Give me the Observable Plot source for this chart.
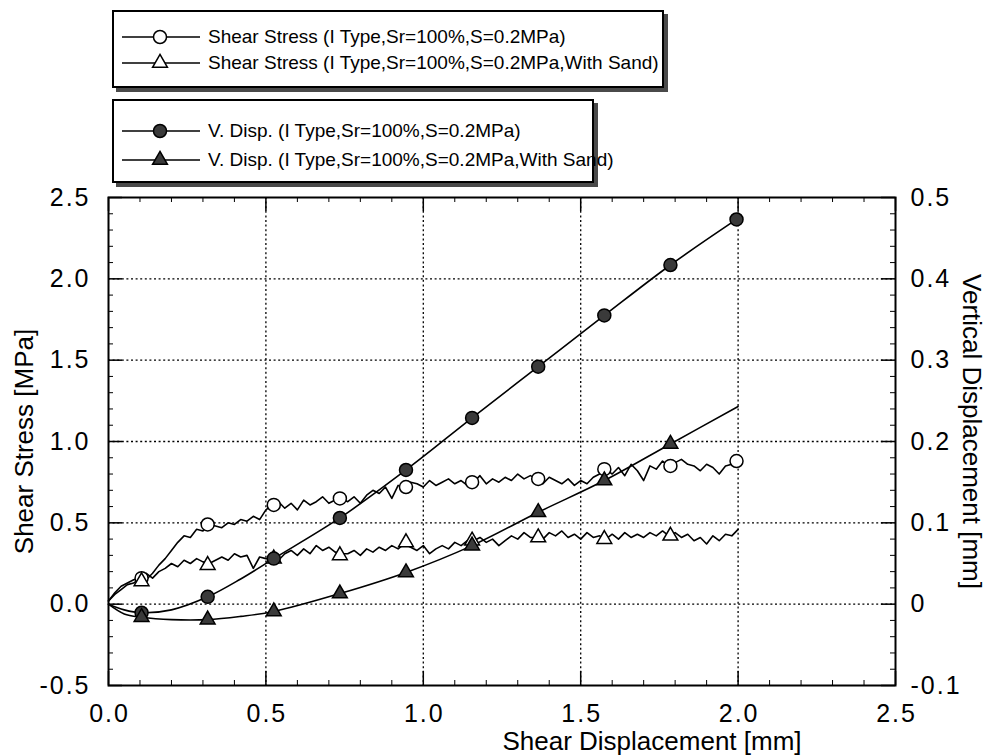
<!DOCTYPE html>
<html>
<head>
<meta charset="utf-8">
<script src="https://cdn.jsdelivr.net/npm/d3@7"></script>
<script src="https://cdn.jsdelivr.net/npm/@observablehq/plot@0.6"></script>
<style>
  body { margin: 0; background: #fff; font-family: "Liberation Sans", Arial, sans-serif; }
  #wrap { position: relative; width: 987px; height: 756px; overflow: hidden; }
  .legend { position: absolute; background: #fff; border: 2px solid #000; box-shadow: 4px 4px 0 #4a4a4a; }
  .row { position: absolute; left: 8px; height: 26px; display: flex; align-items: center; white-space: nowrap; font-size: 19px; color: #000; }
  .row svg { flex: none; margin-right: 6px; }
  .tick-label text { letter-spacing: 2px; }
</style>
</head>
<body>
<div id="wrap"></div>
<script>
// Shear displacement sampling of the recorded shear stress traces [mm]
const sampleStep = 0.02;

// Shear stress, I type, Sr=100%, S=0.2MPa [MPa]
const shearStress = [
  0.02, 0.06, 0.09, 0.12, 0.13, 0.16, 0.15, 0.19, 0.24, 0.28,
  0.33, 0.38, 0.42, 0.41, 0.46, 0.45, 0.49, 0.48, 0.47, 0.50,
  0.49, 0.52, 0.51, 0.54, 0.52, 0.58, 0.61, 0.63, 0.59, 0.62,
  0.58, 0.64, 0.61, 0.63, 0.66, 0.62, 0.64, 0.65, 0.63, 0.66,
  0.62, 0.67, 0.70, 0.68, 0.72, 0.65, 0.73, 0.72, 0.75, 0.74,
  0.72, 0.76, 0.73, 0.75, 0.77, 0.74, 0.76, 0.73, 0.75, 0.79,
  0.74, 0.77, 0.75, 0.78, 0.76, 0.80, 0.77, 0.79, 0.77, 0.74,
  0.78, 0.76, 0.74, 0.77, 0.73, 0.76, 0.74, 0.78, 0.80, 0.83,
  0.80, 0.84, 0.79, 0.86, 0.82, 0.76, 0.85, 0.83, 0.88, 0.85,
  0.87, 0.89, 0.86, 0.85, 0.82, 0.86, 0.84, 0.80, 0.85, 0.86,
  0.88
];

// Shear stress, I type, Sr=100%, S=0.2MPa, with sand [MPa]
const shearStressSand = [
  0.02, 0.07, 0.11, 0.13, 0.15, 0.16, 0.19, 0.16, 0.20, 0.22,
  0.25, 0.23, 0.27, 0.25, 0.28, 0.26, 0.25, 0.27, 0.29, 0.27,
  0.31, 0.29, 0.30, 0.22, 0.29, 0.28, 0.28, 0.27, 0.31, 0.33,
  0.30, 0.34, 0.31, 0.36, 0.33, 0.35, 0.32, 0.31, 0.31, 0.33,
  0.30, 0.34, 0.32, 0.35, 0.33, 0.36, 0.34, 0.37, 0.35, 0.33,
  0.36, 0.31, 0.34, 0.36, 0.34, 0.38, 0.36, 0.39, 0.39, 0.41,
  0.38, 0.40, 0.36, 0.39, 0.42, 0.40, 0.44, 0.41, 0.41, 0.40,
  0.44, 0.42, 0.45, 0.41, 0.43, 0.40, 0.44, 0.41, 0.42, 0.40,
  0.43, 0.40, 0.44, 0.41, 0.43, 0.41, 0.44, 0.42, 0.45, 0.42,
  0.44, 0.41, 0.43, 0.39, 0.41, 0.37, 0.42, 0.39, 0.43, 0.42,
  0.46
];

// Symbol positions along the traces [mm]
const markX = [0.105, 0.315, 0.525, 0.735, 0.945, 1.155, 1.365, 1.575, 1.785, 1.995];
const shearMarks = [0.16, 0.49, 0.61, 0.65, 0.72, 0.75, 0.77, 0.83, 0.85, 0.88];
const shearSandMarks = [0.14, 0.24, 0.28, 0.30, 0.38, 0.39, 0.41, 0.40, 0.42];

// Vertical displacement [mm]
const vDispX = [0, 0.05, 0.105, 0.2, 0.315, 0.42, 0.525, 0.735, 0.945, 1.155, 1.365, 1.575, 1.785, 1.995];
const vDisp = [0, -0.007, -0.0105, -0.007, 0.009, 0.031, 0.056, 0.106, 0.165, 0.229, 0.292, 0.355, 0.417, 0.473];
const vDispSandX = [0, 0.05, 0.105, 0.2, 0.315, 0.42, 0.525, 0.735, 0.945, 1.155, 1.365, 1.575, 1.785, 2.0];
const vDispSand = [0, -0.012, -0.016, -0.019, -0.019, -0.015, -0.009, 0.013, 0.039, 0.072, 0.113, 0.152, 0.197, 0.243];
const vDispMarks = [-0.0105, 0.009, 0.056, 0.106, 0.165, 0.229, 0.292, 0.355, 0.417, 0.473];
const vDispSandMarks = [-0.016, -0.019, -0.009, 0.013, 0.039, 0.072, 0.113, 0.152, 0.197];

// Axes
const xTicks = [0, 0.5, 1.0, 1.5, 2.0, 2.5];
const yTicks = [-0.5, 0, 0.5, 1.0, 1.5, 2.0, 2.5];
const vTickLabels = ["-0.1", "0", "0.1", "0.2", "0.3", "0.4", "0.5"];
const xGrid = [0.5, 1.0, 1.5, 2.0];
const yGrid = [0, 0.5, 1.0, 1.5, 2.0];
const vPerStress = 0.2; // 0.1 mm of vertical displacement per 0.5 MPa

const legend1 = [
  {label: "Shear Stress (I Type,Sr=100%,S=0.2MPa)", symbol: "circle", fill: "#fff"},
  {label: "Shear Stress (I Type,Sr=100%,S=0.2MPa,With Sand)", symbol: "triangle", fill: "#fff"}
];
const legend2 = [
  {label: "V. Disp. (I Type,Sr=100%,S=0.2MPa)", symbol: "circle", fill: "#3a3a3a"},
  {label: "V. Disp. (I Type,Sr=100%,S=0.2MPa,With Sand)", symbol: "triangle", fill: "#3a3a3a"}
];

const shearData = shearStress.map((y, i) => ({x: i * sampleStep, y}));
const shearSandData = shearStressSand.map((y, i) => ({x: i * sampleStep, y}));
const shearMarkData = shearMarks.map((y, i) => ({x: markX[i], y}));
const shearSandMarkData = shearSandMarks.map((y, i) => ({x: markX[i], y}));
const vData = vDisp.map((v, i) => ({x: vDispX[i], v}));
const vSandData = vDispSand.map((v, i) => ({x: vDispSandX[i], v}));
const vMarkData = vDispMarks.map((v, i) => ({x: markX[i], v}));
const vSandMarkData = vDispSandMarks.map((v, i) => ({x: markX[i], v}));

const W = 987, H = 756;
const M = {top: 197, right: 92, bottom: 71, left: 108};
const innerW = W - M.left - M.right, innerH = H - M.top - M.bottom;
const tickLen = 14, minorLen = 5;
const minorX = d3.range(0.1, 2.5, 0.1).filter(d => Math.abs(d * 2 - Math.round(d * 2)) > 1e-6);
const minorY = d3.range(-0.4, 2.5, 0.1).filter(d => Math.abs(d * 2 - Math.round(d * 2)) > 1e-6);

const gridStyle = {stroke: "#000", strokeOpacity: 1, strokeWidth: 1.3, strokeDasharray: "2,2.6"};
const font = {fontSize: 25, fill: "#000", className: "tick-label"};
const titleFont = {fontSize: 26, fill: "#000", textAnchor: "middle"};
const lineStyle = {stroke: "#000", strokeWidth: 1.6};

const chart = Plot.plot({
  width: W, height: H,
  marginTop: M.top, marginRight: M.right, marginBottom: M.bottom, marginLeft: M.left,
  style: {fontFamily: "'Liberation Sans', Arial, sans-serif", background: "#fff", color: "#000"},
  x: {domain: [0, 2.5]},
  y: {domain: [-0.5, 2.5]},
  marks: [
    Plot.gridX(xGrid, gridStyle),
    Plot.gridY(yGrid, gridStyle),
    // inward major ticks on all four sides
    Plot.tickX(xTicks, {x: d => d, insetTop: innerH - tickLen, stroke: "#000", strokeWidth: 1.5}),
    Plot.tickX(xTicks, {x: d => d, insetBottom: innerH - tickLen, stroke: "#000", strokeWidth: 1.5}),
    Plot.tickY(yTicks, {y: d => d, insetRight: innerW - tickLen, stroke: "#000", strokeWidth: 1.5}),
    Plot.tickY(yTicks, {y: d => d, insetLeft: innerW - tickLen, stroke: "#000", strokeWidth: 1.5}),
    // minor ticks
    Plot.tickX(minorX, {x: d => d, insetTop: innerH - minorLen, stroke: "#000"}),
    Plot.tickX(minorX, {x: d => d, insetBottom: innerH - minorLen, stroke: "#000"}),
    Plot.tickY(minorY, {y: d => d, insetRight: innerW - minorLen, stroke: "#000"}),
    Plot.tickY(minorY, {y: d => d, insetLeft: innerW - minorLen, stroke: "#000"}),
    Plot.axisX(xTicks, {tickSize: 0, tickPadding: 19, dx: 1, tickFormat: d => d.toFixed(1), label: null, ...font}),
    Plot.axisY(yTicks, {anchor: "left", tickSize: 0, tickPadding: 18, tickFormat: d => d.toFixed(1), label: null, ...font}),
    Plot.axisY(yTicks, {anchor: "right", tickSize: 0, tickPadding: 15, tickFormat: d => vTickLabels[yTicks.indexOf(d)], label: null, ...font}),
    Plot.text(["Shear Stress [MPa]"], {frameAnchor: "left", dx: -84, rotate: -90, ...titleFont}),
    Plot.text(["Vertical Displacement [mm]"], {frameAnchor: "right", dx: 76, dy: -10, rotate: 90, ...titleFont}),
    Plot.text(["Shear Displacement [mm]"], {frameAnchor: "bottom", dx: 150, dy: 64, ...titleFont}),
    // shear stress traces
    Plot.line(shearData, {x: "x", y: "y", ...lineStyle}),
    Plot.line(shearSandData, {x: "x", y: "y", ...lineStyle}),
    // vertical displacement curves on the right-hand scale
    Plot.line(vData, {x: "x", y: d => d.v / vPerStress, curve: "catmull-rom", ...lineStyle}),
    Plot.line(vSandData, {x: "x", y: d => d.v / vPerStress, curve: "catmull-rom", ...lineStyle}),
    Plot.dot(shearMarkData, {x: "x", y: "y", r: 6.5, fill: "#fff", stroke: "#000", strokeWidth: 1.5}),
    Plot.dot(shearSandMarkData, {x: "x", y: "y", r: 5.5, symbol: "triangle", fill: "#fff", stroke: "#000", strokeWidth: 1.5}),
    Plot.dot(vMarkData, {x: "x", y: d => d.v / vPerStress, r: 6.5, fill: "#3a3a3a", stroke: "#000", strokeWidth: 1.5}),
    Plot.dot(vSandMarkData, {x: "x", y: d => d.v / vPerStress, r: 5.5, symbol: "triangle", fill: "#3a3a3a", stroke: "#000", strokeWidth: 1.5}),
    Plot.frame({stroke: "#000", strokeWidth: 2})
  ]
});

const wrap = document.getElementById("wrap");
wrap.appendChild(chart);

// legend boxes
function sampleGlyph(item) {
  const svg = d3.create("svg").attr("width", 80).attr("height", 20);
  svg.append("line").attr("x1", 0).attr("x2", 78).attr("y1", 10).attr("y2", 10).attr("stroke", "#000").attr("stroke-width", 1.5);
  const sym = item.symbol === "triangle" ? d3.symbolTriangle : d3.symbolCircle;
  const size = item.symbol === "triangle" ? Math.PI * 5.5 * 5.5 : Math.PI * 6.5 * 6.5;
  svg.append("path").attr("d", d3.symbol(sym, size)()).attr("transform", "translate(38,10)")
    .attr("fill", item.fill).attr("stroke", "#000").attr("stroke-width", 1.5);
  return svg.node();
}
function addLegend(items, top, width, height, rowTops) {
  const box = document.createElement("div");
  box.className = "legend";
  Object.assign(box.style, {left: "112px", top: top + "px", width: width + "px", height: height + "px"});
  items.forEach((item, i) => {
    const row = document.createElement("div");
    row.className = "row";
    row.style.top = rowTops[i] + "px";
    row.appendChild(sampleGlyph(item));
    const span = document.createElement("span");
    span.textContent = item.label;
    row.appendChild(span);
    box.appendChild(row);
  });
  wrap.appendChild(box);
}
addLegend(legend1, 10, 548, 74, [12, 38]);
addLegend(legend2, 99, 478, 80, [17, 46]);
</script>
</body>
</html>
